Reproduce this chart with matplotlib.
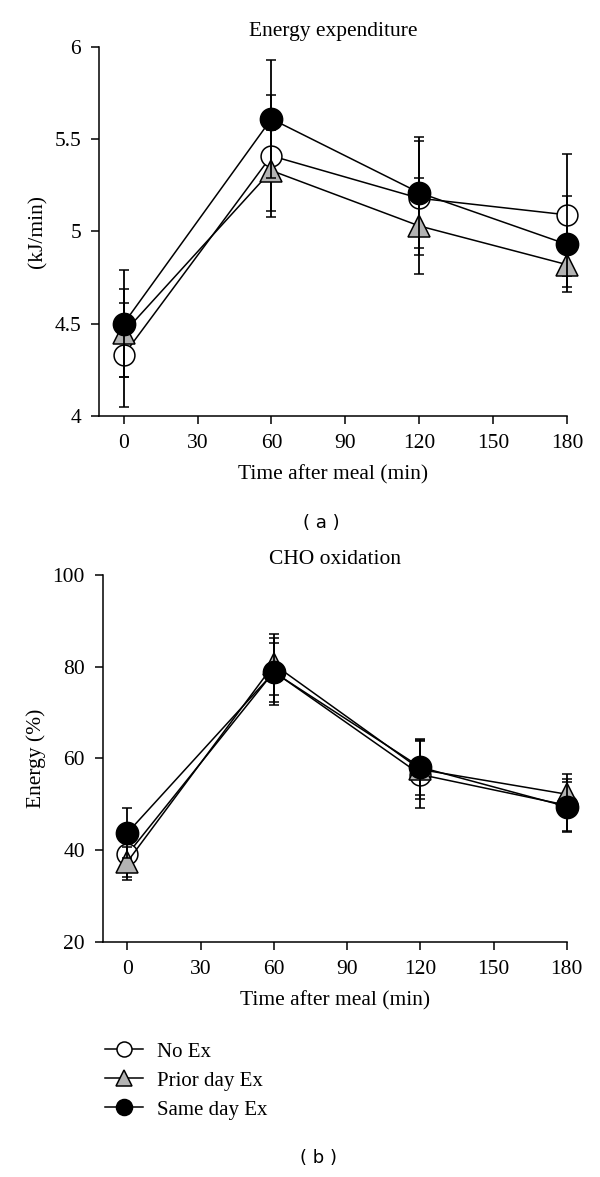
import matplotlib.pyplot as plt
import numpy as np
from matplotlib.lines import Line2D

plt.rcParams['font.family'] = ['Liberation Serif', 'DejaVu Serif']

time = [0, 60, 120, 180]
groups = ["No Ex", "Prior day Ex", "Same day Ex"]

# energy expenditure (kJ/min), mean and SD
ee_noex = [4.33, 5.41, 5.18, 5.09]
ee_prior = [4.45, 5.33, 5.03, 4.82]
ee_same = [4.50, 5.61, 5.21, 4.93]
ee_noex_sd = [0.28, 0.33, 0.31, 0.33]
ee_prior_sd = [0.24, 0.22, 0.26, 0.12]
ee_same_sd = [0.29, 0.32, 0.30, 0.26]

# CHO oxidation (% energy), mean and SD
cho_noex = [39.1, 78.9, 56.5, 49.8]
cho_prior = [37.5, 80.5, 57.6, 52.2]
cho_same = [43.8, 78.8, 58.1, 49.5]
cho_noex_sd = [5.6, 7.3, 7.4, 5.8]
cho_prior_sd = [3.3, 6.6, 6.5, 4.5]
cho_same_sd = [5.4, 6.4, 6.1, 5.3]

styles = [
    dict(marker='o', mfc='white', ms=15),
    dict(marker='^', mfc='#b3b3b3', ms=16),
    dict(marker='o', mfc='black', ms=16),
]
FS = 15.5

fig = plt.figure(figsize=(6, 11.77), dpi=100)
ax1 = fig.add_axes([0.165, 0.6466, 0.78, 0.3135])
ax2 = fig.add_axes([0.1717, 0.1997, 0.773, 0.3118])


def draw(ax, means, sds, title, ylabel, ylim, yticks):
    for i, (m, s) in enumerate(zip(means, sds)):
        ax.errorbar(time, m, yerr=s, color='black', lw=1.1, elinewidth=1.3,
                    capsize=3.5, capthick=1.3, mec='black', mew=1.1,
                    zorder=3 + i, clip_on=False, **styles[i])
    ax.set_xlim(-10, 180)
    ax.set_ylim(*ylim)
    ax.set_xticks(range(0, 181, 30))
    ax.set_yticks(yticks)
    ax.set_yticklabels([f"{v:g}" for v in yticks])
    for side in ['top', 'right']:
        ax.spines[side].set_visible(False)
    for side in ['left', 'bottom']:
        ax.spines[side].set_linewidth(1.1)
    ax.tick_params(direction='out', length=6, width=1.1, labelsize=FS, pad=7)
    ax.set_title(title, fontsize=FS, pad=8)
    ax.set_xlabel("Time after meal (min)", fontsize=FS, labelpad=9)
    ax.set_ylabel(ylabel, fontsize=FS, labelpad=5)


draw(ax1, [ee_noex, ee_prior, ee_same], [ee_noex_sd, ee_prior_sd, ee_same_sd],
     "Energy expenditure", "(kJ/min)", (4, 6), [4, 4.5, 5, 5.5, 6])
draw(ax2, [cho_noex, cho_prior, cho_same], [cho_noex_sd, cho_prior_sd, cho_same_sd],
     "CHO oxidation", "Energy (%)", (20, 100), [20, 40, 60, 80, 100])

fig.text(321 / 600, 1 - 523 / 1177, "( a )", family='DejaVu Sans', fontsize=13,
         ha='center', va='center')
fig.text(319 / 600, 1 - 1158 / 1177, "( b )", family='DejaVu Sans', fontsize=13,
         ha='center', va='center')

handles = [Line2D([], [], color='black', lw=1.1, mec='black', mew=1.1, **st)
           for st in styles]
fig.legend(handles, groups, loc='upper left', bbox_to_anchor=(0.175, 1 - 1042 / 1177),
           frameon=False, fontsize=15, markerscale=0.72, handlelength=1.8,
           handletextpad=0.7, labelspacing=0.45, borderaxespad=0, borderpad=0)

fig.savefig("out.png", dpi=100)
